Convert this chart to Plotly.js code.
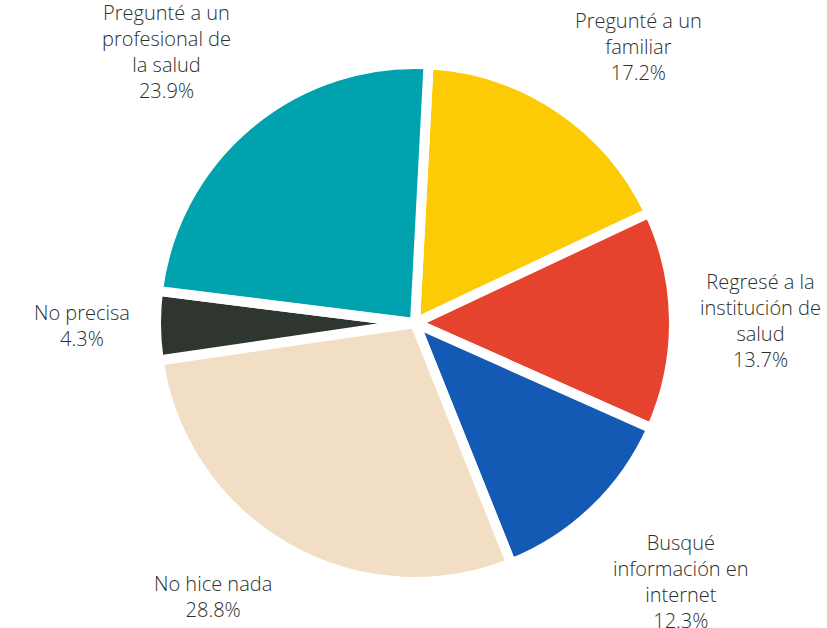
<!DOCTYPE html>
<html>
<head>
<meta charset="utf-8">
<script src="https://cdn.plot.ly/plotly-3.0.1.min.js"></script>
<style>html,body{margin:0;padding:0;background:#fff;}#chart{width:827px;height:628px;}</style>
</head>
<body>
<div id="chart"></div>
<script>
const categories = [
  "Pregunté a un<br>familiar",
  "Regresé a la<br>institución de<br>salud",
  "Busqué<br>información en<br>internet",
  "No hice nada",
  "No precisa",
  "Pregunté a un<br>profesional de<br>la salud"
];
const values = [17.2, 13.7, 12.3, 28.8, 4.3, 23.9];
const colors = ["#FCCB06", "#E5432E", "#1459B3", "#F1DEC5", "#2F3630", "#00A3AD"];

const W = 827, H = 628;
const margin = { l: 3, r: 0, t: 64, b: 46 };
const rotation = 3;
const labelGap = 24;
const labelFont = { family: "'Open Sans', Lato, sans-serif", size: 20, color: "#2b302c", weight: 300 };

const trace = {
  type: "pie",
  labels: categories,
  values: values,
  sort: false,
  direction: "clockwise",
  rotation: rotation,
  marker: { colors: colors, line: { color: "#ffffff", width: 10 } },
  textinfo: "none",
  hoverinfo: "label+value",
  automargin: false,
  showlegend: false
};

// Place labels outside the slices, at each slice's mid-angle
const plotW = W - margin.l - margin.r, plotH = H - margin.t - margin.b;
const cx = plotW / 2, cy = plotH / 2;
const R = Math.min(plotW, plotH) / 2;
const total = values.reduce((a, b) => a + b, 0);
let cum = 0;
const annotations = values.map((v, i) => {
  const mid = rotation + (cum + v / 2) / total * 360;
  cum += v;
  const a = mid * Math.PI / 180;
  const dx = Math.sin(a), dy = -Math.cos(a);
  const px = cx + (R + labelGap) * dx;
  const py = cy + (R + labelGap) * dy;
  const xanchor = Math.abs(dx) < 0.3 ? "center" : (dx > 0 ? "left" : "right");
  const yanchor = Math.abs(dy) < 0.3 ? "middle" : (dy > 0 ? "top" : "bottom");
  return {
    xref: "paper", yref: "paper",
    x: px / plotW, y: 1 - py / plotH,
    xanchor: xanchor, yanchor: yanchor,
    text: categories[i] + "<br>" + v.toFixed(1) + "%",
    showarrow: false, align: "center",
    font: labelFont
  };
});

const layout = {
  width: W,
  height: H,
  margin: margin,
  paper_bgcolor: "#ffffff",
  plot_bgcolor: "#ffffff",
  showlegend: false,
  annotations: annotations
};

Plotly.newPlot("chart", [trace], layout, { displayModeBar: false, staticPlot: true });
</script>
</body>
</html>
